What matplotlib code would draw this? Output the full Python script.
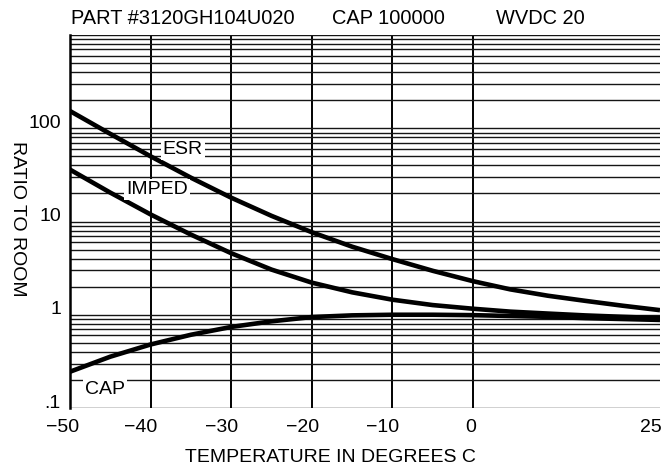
import numpy as np
import matplotlib
matplotlib.use("Agg")
import matplotlib.pyplot as plt
from matplotlib.ticker import FixedLocator, FixedFormatter, LogLocator, NullFormatter
from matplotlib.transforms import ScaledTranslation

plt.rcParams['font.family'] = ['Liberation Sans', 'DejaVu Sans']

# ---- data ----
temps = [-50, -45, -40, -35, -30, -25, -20, -15, -10, -5, 0, 5, 10, 15, 20, 25]
esr = [153, 87, 50, 29.5, 18.0, 11.5, 7.67, 5.37, 3.95, 2.96, 2.29, 1.87, 1.60, 1.41, 1.25, 1.12]
imped = [36, 20.4, 11.9, 7.24, 4.57, 3.05, 2.21, 1.74, 1.45, 1.27, 1.16, 1.08, 1.03, 0.984, 0.95, 0.92]
cap = [0.245, 0.355, 0.48, 0.61, 0.74, 0.85, 0.945, 0.985, 1.0, 1.0, 0.99, 0.97, 0.95, 0.92, 0.90, 0.88]

series_names = ["ESR", "IMPED", "CAP"]
label_pos = [(-36.0, 59.0), (-39.2, 22.2), (-45.7, 0.159)]

x_ticks = [-50, -40, -30, -20, -10, 0, 25]
x_ticklabels = ["\u221250", "\u221240", "\u221230", "\u221220", "\u221210", "0", "25"]
y_ticks = [0.1, 1, 10, 100, 1000]
y_ticklabels = [".1", "1", "10", "100", ""]

title_parts = ["PART #3120GH104U020", "CAP 100000", "WVDC 20"]
x_label = "TEMPERATURE IN DEGREES C"
y_label = "RATIO TO ROOM"

# ---- figure ----
W, H = 665, 474
fig = plt.figure(figsize=(W / 100, H / 100), dpi=100)
L, R, T, B = 70, 660, 35, 408
ax = fig.add_axes([L / W, 1 - B / H, (R - L) / W, (B - T) / H])

# x axis: the 0..25 region is drawn slightly compressed in the original
k = 0.928
def fwd(x):
    x = np.asarray(x, dtype=float)
    return np.where(x <= 0, x, x * k)
def inv(x):
    x = np.asarray(x, dtype=float)
    return np.where(x <= 0, x, x / k)
ax.set_xscale('function', functions=(fwd, inv))
ax.set_yscale('log')
ax.set_xlim(-50, 25)
ax.set_ylim(0.1, 1000)

for vals in (esr, imped, cap):
    ax.plot(temps, vals, color='black', lw=3.3, solid_capstyle='butt',
            solid_joinstyle='round', zorder=3)

for name, (lx, ly) in zip(series_names, label_pos):
    ax.text(lx, ly, name, fontsize=14, ha='center', va='center', zorder=4,
            bbox=dict(facecolor='white', edgecolor='none', pad=1.5))

# ticks
ax.xaxis.set_major_locator(FixedLocator(x_ticks))
ax.xaxis.set_major_formatter(FixedFormatter(x_ticklabels))
ax.xaxis.set_minor_locator(FixedLocator([]))
ax.yaxis.set_major_locator(FixedLocator(y_ticks))
ax.yaxis.set_major_formatter(FixedFormatter(y_ticklabels))
ax.yaxis.set_minor_locator(LogLocator(base=10, subs=np.arange(2, 10)))
ax.yaxis.set_minor_formatter(NullFormatter())
ax.tick_params(axis='both', which='both', length=0, labelsize=14, colors='black')
ax.tick_params(axis='x', pad=8)
ax.tick_params(axis='y', pad=6.5)

# grid
ax.grid(axis='y', which='both', color='#151515', lw=1.0, zorder=1)
ax.grid(axis='x', which='major', color='black', lw=1.4, zorder=1)
xt = ax.xaxis.get_major_ticks()
xt[0].gridline.set_visible(False)
xt[-1].gridline.set_visible(False)
ax.set_axisbelow(True)

for s in ['top', 'right', 'bottom']:
    ax.spines[s].set_visible(False)
ax.spines['left'].set_linewidth(1.8)

# tick label offsets (as in the original)
dxs = [-7, -9.5, -9.5, -9, -9.5, -2, 2]
for lab, dx in zip(ax.get_xticklabels(), dxs):
    lab.set_transform(lab.get_transform() + ScaledTranslation(dx / 100, 0, fig.dpi_scale_trans))
ax.get_xticklabels()[-1].set_horizontalalignment('right')
for lab in ax.get_yticklabels():
    lab.set_transform(lab.get_transform() + ScaledTranslation(0, 7 / 100, fig.dpi_scale_trans))

# axis labels
ax.set_xlabel(x_label, fontsize=14, va='center')
ax.xaxis.set_label_coords((330 - L) / (R - L), (B - 457.5) / (B - T))
ax.set_ylabel(y_label, fontsize=14, rotation=270, va='center', ha='center')
ax.yaxis.set_label_coords((17 - L) / (R - L), (B - 218.5) / (B - T))

# header line
for txt, px in zip(title_parts, [71, 332, 496]):
    fig.text(px / W, 1 - 24 / H, txt, fontsize=14.4, ha='left', va='baseline')

fig.savefig("out.png", dpi=100)
